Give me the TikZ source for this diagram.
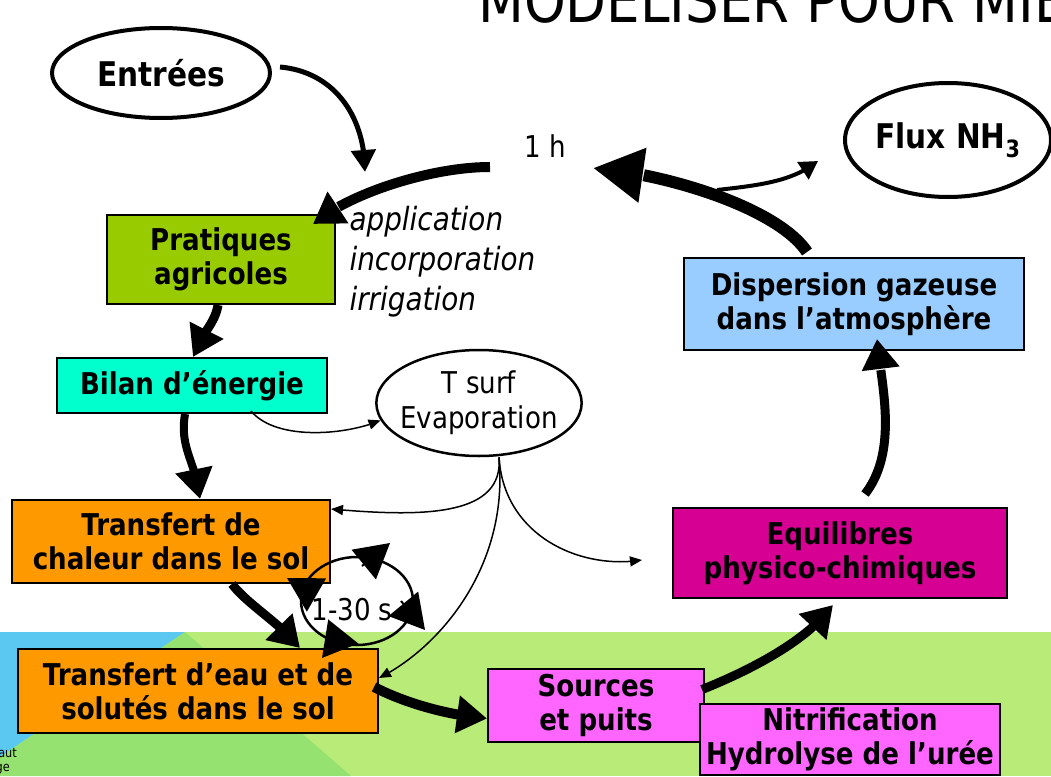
\documentclass[tikz,border=0pt]{standalone}
\usepackage{fontspec}
\setmainfont{DejaVu Sans}[FakeStretch=0.87]
\usetikzlibrary{positioning,arrows.meta,bending,shapes.geometric}

\definecolor{vertprat}{RGB}{153,204,0}
\definecolor{cbilan}{RGB}{0,255,204}
\definecolor{orangesol}{RGB}{255,153,0}
\definecolor{bleuair}{RGB}{153,204,255}
\definecolor{magequil}{RGB}{214,0,147}
\definecolor{rose}{RGB}{255,102,255}
\definecolor{vertclair}{RGB}{185,235,120}
\definecolor{vertmoyen}{RGB}{150,226,112}
\definecolor{bleufond}{RGB}{91,200,241}

\begin{document}
\begin{tikzpicture}[x=1pt,y=-1pt,
  boite/.style={draw,line width=2pt,align=center,inner sep=0pt,font=\bfseries\fontsize{30}{34}\selectfont},
  bulle/.style={draw,ellipse,line width=4pt,inner sep=0pt,font=\bfseries\fontsize{34}{36}\selectfont},
  gros/.style={line width=10pt,-{Triangle[length=30pt,width=36pt]}},
  fin/.style={line width=1.5pt,-{Triangle[length=12pt,width=10pt]}},
  pointe/.style={line width=2pt,-{Triangle[length=34pt,width=38pt]}}]
  \useasboundingbox (0,0) rectangle (1051,776);
  \clip (0,0) rectangle (1051,776);
  % fond
  \fill[vertclair] (0,632) rectangle (1051,776);
  \fill[bleufond] (0,632) -- (185,632) -- (0,757) -- cycle;
  \fill[vertmoyen] (185,632) -- (351,776) -- (0,776) -- (0,757) -- cycle;
  \node[anchor=base west,inner sep=0pt,font=\fontsize{61}{62}\selectfont] (titre) at (478,23) {MODELISER POUR MIE};
  \node[anchor=base east,inner sep=0pt,font=\fontsize{13}{14}\selectfont] (bas1) at (17,757) {aut};
  \node[anchor=base east,inner sep=0pt,font=\fontsize{13}{14}\selectfont] (bas2) at (10,771) {ge};

  \node[bulle,minimum width=218,minimum height=90] (entrees) at (161,73) {Entrées};
  \node[bulle,minimum width=206,minimum height=114] (flux) at (948,140) {Flux NH\textsubscript{3}};
  \node[font=\fontsize{30}{35}\selectfont] (unh) at (545,146) {1 h};
  \node[anchor=west,align=left,font=\itshape\fontsize{32}{40}\selectfont] (pratiq) at (346,262) {application\\incorporation\\irrigation};

  \node[boite,fill=vertprat,minimum width=228,minimum height=89] (prat) at (221,259.5) {Pratiques\\agricoles};
  \node[boite,fill=cbilan,minimum width=270,minimum height=55] (bilan) at (192,385.5) {Bilan d’énergie};
  \node[bulle,line width=2.5pt,font=\fontsize{30}{35}\selectfont,align=center,inner xsep=-6pt,inner ysep=5pt,
        minimum width=202,minimum height=106] (tsurf) at (479,403) {T surf\\Evaporation};
  \node[boite,fill=orangesol,minimum width=318,minimum height=83] (chaleur) at (171,541.5) {Transfert de\\chaleur dans le sol};
  \node[boite,fill=orangesol,minimum width=360,minimum height=84] (eau) at (198,691) {Transfert d’eau et de\\solutés dans le sol};
  \node[boite,fill=rose,minimum width=216,minimum height=73] (sources) at (596,705.5) {Sources\\et puits};
  \node[boite,fill=rose,minimum width=300,minimum height=71] (nitri) at (850,739.5) {Nitrification\\Hydrolyse de l’urée};
  \node[boite,fill=bleuair,minimum width=340,minimum height=92] (disp) at (854,304) {Dispersion gazeuse\\dans l’atmosphère};
  \node[boite,fill=magequil,minimum width=334,minimum height=90] (equil) at (840,553) {Equilibres\\physico-chimiques};
  \node[draw,ellipse,line width=2.5pt,minimum width=112,minimum height=88] (boucle) at (357,601) {};
  \node[font=\fontsize{30}{35}\selectfont] (duree) at (352,610) {1-30 s};

  % fleches
  \coordinate (j1) at (365,172);
  \coordinate (fourche) at (717,190);
  \draw[line width=5pt,-{Triangle[length=22pt,width=24pt]}] ([shift={(8,-6)}]entrees.east) .. controls +(55,5) and +(0,-55) .. (j1);
  \draw[gros] ([shift={(-55,21)}]unh.center) .. controls +(-60,0) and +(35,-30) .. ([shift={(-23,10)}]prat.north east);
  \draw[gros,line width=9pt] ([xshift=-3pt]prat.south) .. controls +(-3,20) and +(5,-20) .. ([xshift=1pt]bilan.north);
  \draw[gros,line width=8pt] ([xshift=-7pt]bilan.south) .. controls +(-6,35) and +(-3,-35) .. ([xshift=29pt]chaleur.north);
  \draw[fin] ([shift={(-77,-3)}]bilan.south east) .. controls +(25,30) and +(-35,15) .. (tsurf.190);
  \draw[fin] ([xshift=20pt]tsurf.south) .. controls +(5,60) and +(90,8) .. ([shift={(0,10)}]chaleur.north east);
  \draw[fin] ([xshift=20pt]tsurf.south) .. controls +(5,80) and +(-60,10) .. ([shift={(-30,7)}]equil.west);
  \draw[fin] ([xshift=20pt]tsurf.south) .. controls +(10,110) and +(60,-30) .. ([shift={(0,-13)}]eau.east);
  \draw[gros,line width=9pt] ([xshift=61pt]chaleur.south) .. controls +(15,20) and +(-20,-25) .. ([xshift=102pt]eau.north);
  \foreach \a/\b/\c/\d in {5/-35/28/-23,-44/-8/-26/-15,44/0/24/29,-15/32/-20/25}
    \draw[pointe] ([shift={(\a,\b)}]boucle.center) -- ++(\c,\d);
  \draw[gros] ([shift={(-5,-4)}]eau.east) .. controls +(35,18) and +(-35,-3) .. ([shift={(0,13)}]sources.west);
  \draw[gros,line width=9pt] ([shift={(-3,-16)}]sources.east) .. controls +(50,-20) and +(-25,35) .. ([shift={(-7,6)}]equil.south);
  \draw[gros,line width=9pt] ([shift={(25,-13)}]equil.north) .. controls +(35,-45) and +(3,40) .. ([shift={(23,-12)}]disp.south);
  \draw[gros,line width=12pt,-{Triangle[length=50pt,width=52pt]}] ([shift={(-47,-5)}]disp.north) .. controls +(-30,-45) and +(70,5) .. ([shift={(48,22)}]unh.center);
  \draw[line width=4pt,-{Triangle[length=18pt,width=20pt]}] (fourche) .. controls +(45,-5) and +(-25,20) .. ([shift={(-25,21)}]flux.west);
\end{tikzpicture}
\end{document}
